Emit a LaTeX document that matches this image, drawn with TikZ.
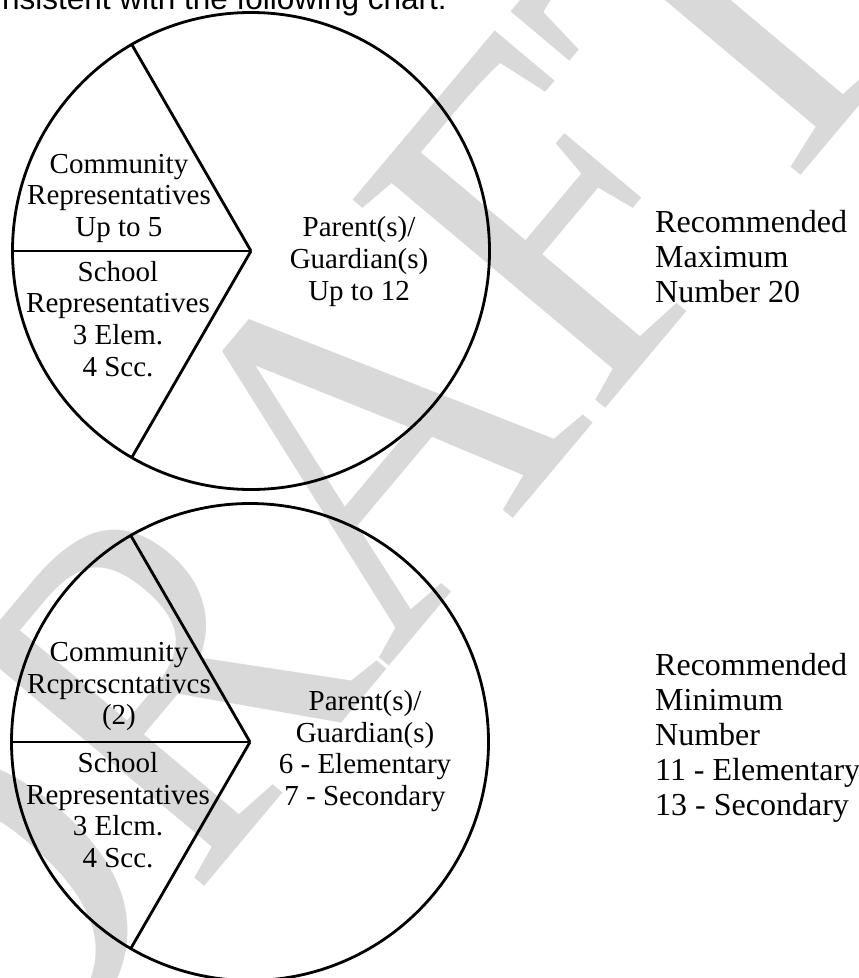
\documentclass[tikz,border=0pt]{standalone}
\usepackage{fontspec}
\setmainfont{Liberation Serif}
\newfontfamily\sansfam{Liberation Sans}
\begin{document}
\begin{tikzpicture}[x=1pt,y=-1pt,
  pieline/.style={line width=2.8pt, line join=miter},
  pietext/.style={align=center, inner sep=0pt, anchor=north, font=\fontsize{29}{31.7}\selectfont},
  sidetext/.style={align=left, inner sep=0pt, anchor=north west, font=\fontsize{32}{35}\selectfont},
  wmark/.style={rotate=50, xscale=0.9, anchor=base west, inner sep=0pt, text=black!15, font=\fontsize{500}{500}\selectfont},
  headtext/.style={anchor=base east, inner sep=0pt, font=\sansfam\fontsize{31.5}{34}\selectfont}]
\useasboundingbox (0,0) rectangle (859,978);
\clip (0,0) rectangle (859,978);
% watermark
\node[wmark] (wm) at (-14.9,1148) {DRAFT};
% header
\node[headtext] (head) at (447,9.5) {nsistent with the following chart:};
% top pie
\coordinate (c1) at (251,251);
\draw[pieline] (c1) circle (238.5);
\draw[pieline] (c1) -- ++(-119.25,-206.55);
\draw[pieline] (c1) -- ++(-119.25,206.55);
\draw[pieline] (c1) -- ++(-238.5,0);
\node[pietext] (comm1) at (119,153.6) {Community\\Representatives\\Up to 5};
\node[pietext] (school1) at (118,260.9) {School\\Representatives\\3 Elem.\\4 Scc.};
\node[pietext] (parent1) at (359,216.6) {Parent(s)/\\Guardian(s)\\Up to 12};
\node[sidetext] (rec1) at (655,209.8) {Recommended\\Maximum\\Number 20};
% bottom pie
\coordinate (c2) at (250,742);
\draw[pieline] (c2) circle (238.5);
\draw[pieline] (c2) -- ++(-119.25,-206.55);
\draw[pieline] (c2) -- ++(-119.25,206.55);
\draw[pieline] (c2) -- ++(-238.5,0);
\node[pietext] (comm2) at (119,642) {Community\\Rcprcscntativcs\\(2)};
\node[pietext] (school2) at (118,752) {School\\Representatives\\3 Elcm.\\4 Scc.};
\node[pietext] (parent2) at (365,690) {Parent(s)/\\Guardian(s)\\6 - Elementary\\7 - Secondary};
\node[sidetext] (rec2) at (655,653) {Recommended\\Minimum\\Number\\11 - Elementary\\13 - Secondary};
\end{tikzpicture}
\end{document}
